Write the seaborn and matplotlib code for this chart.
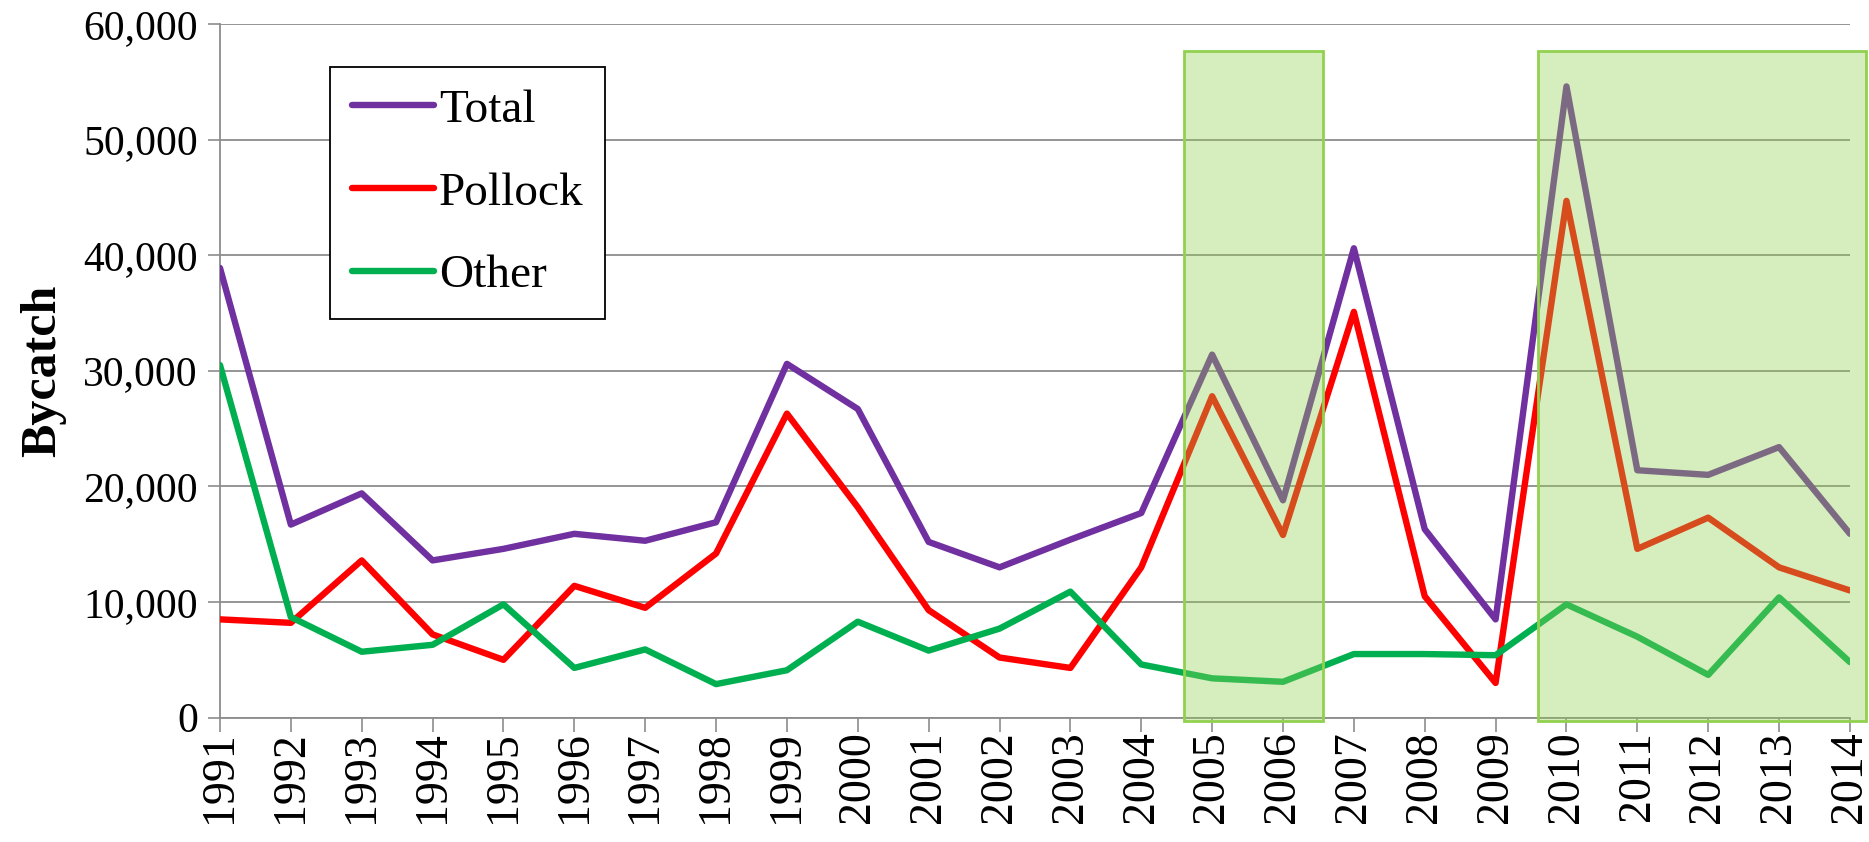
import numpy as np
import pandas as pd
import seaborn as sns
import matplotlib.pyplot as plt
from matplotlib.patches import Rectangle

# ====== Data ======
years = list(range(1991, 2015))
total = [38900, 16700, 19400, 13600, 14600, 15900, 15300, 16900, 30600, 26700,
         15200, 13000, 15400, 17700, 31400, 18800, 40600, 16300, 8500, 54600,
         21400, 21000, 23400, 15900]
pollock = [8500, 8200, 13600, 7200, 5000, 11400, 9500, 14200, 26300, 18200,
           9300, 5200, 4300, 13000, 27800, 15800, 35100, 10500, 3000, 44700,
           14600, 17300, 13000, 11000]
other = [30500, 8700, 5700, 6300, 9800, 4300, 5900, 2900, 4100, 8300,
         5800, 7700, 10900, 4600, 3400, 3100, 5500, 5500, 5400, 9800,
         7000, 3700, 10400, 4800]
series_names = ["Total", "Pollock", "Other"]
series_colors = ["#7030a0", "#ff0000", "#00b050"]
y_ticks = [0, 10000, 20000, 30000, 40000, 50000, 60000]

# highlighted periods (year start, year end)
highlight_spans = [(2004.6, 2006.56), (2009.6, 2014.23)]

df = pd.DataFrame({"Year": years, "Total": total, "Pollock": pollock, "Other": other})
long_df = df.melt(id_vars="Year", var_name="Series", value_name="Bycatch")

# ====== Style ======
sns.set_theme(style="white")
plt.rcParams['font.family'] = ['Liberation Serif', 'DejaVu Serif']
plt.rcParams['text.color'] = 'black'
plt.rcParams['xtick.color'] = 'black'
plt.rcParams['ytick.color'] = 'black'
plt.rcParams['axes.labelcolor'] = 'black'

fig = plt.figure(figsize=(18.69, 8.42), dpi=100)
ax = fig.add_axes([0.1177, 0.1477, 0.8721, 0.8238])

sns.lineplot(data=long_df, x="Year", y="Bycatch", hue="Series", hue_order=series_names,
             palette=series_colors, linewidth=4.6, ax=ax, legend=False, zorder=3)

# shaded boxes drawn over the lines
for x0, x1 in highlight_spans:
    ax.add_patch(Rectangle((x0, -300), x1 - x0, 58000, facecolor="#92d050", alpha=0.37,
                           edgecolor="none", zorder=5, clip_on=False))
    ax.add_patch(Rectangle((x0, -300), x1 - x0, 58000, facecolor="none",
                           edgecolor="#92d050", linewidth=2, zorder=6, clip_on=False))

# axes, grid, ticks
ax.set_xlim(1991, 2014)
ax.set_ylim(0, 60000)
ax.set_xticks(years)
ax.set_xticklabels([str(y) for y in years], rotation=90, fontsize=33)
ax.set_yticks(y_ticks)
ax.set_yticklabels([f"{v:,}" for v in y_ticks], fontsize=30)
ax.yaxis.grid(True, color="#8c8c8c", linewidth=1.3)
ax.set_axisbelow(True)
ax.tick_params(axis="x", direction="out", length=10, width=1.2, color="#8c8c8c", pad=0, bottom=True)
ax.tick_params(axis="y", direction="out", length=9, width=1.2, color="#8c8c8c", pad=7, left=True)
for side in ["top", "right"]:
    ax.spines[side].set_visible(False)
for side in ["left", "bottom"]:
    ax.spines[side].set_color("#8c8c8c")
    ax.spines[side].set_linewidth(1.3)

ax.set_xlabel("")
ax.set_ylabel("Bycatch", fontsize=36, fontweight="bold", labelpad=12)

# legend
handles = [plt.Line2D([], [], color=c, linewidth=4.6, solid_capstyle="round") for c in series_colors]
leg = ax.legend(handles, series_names, loc="upper left", bbox_to_anchor=(0.0675, 0.938),
                fontsize=34, frameon=True, fancybox=False, framealpha=1, edgecolor="black",
                labelspacing=0.84, handlelength=1.75, handletextpad=0.1, borderpad=0.46,
                borderaxespad=0)
leg.get_frame().set_linewidth(1.3)

plt.savefig("out.png", dpi=100)
